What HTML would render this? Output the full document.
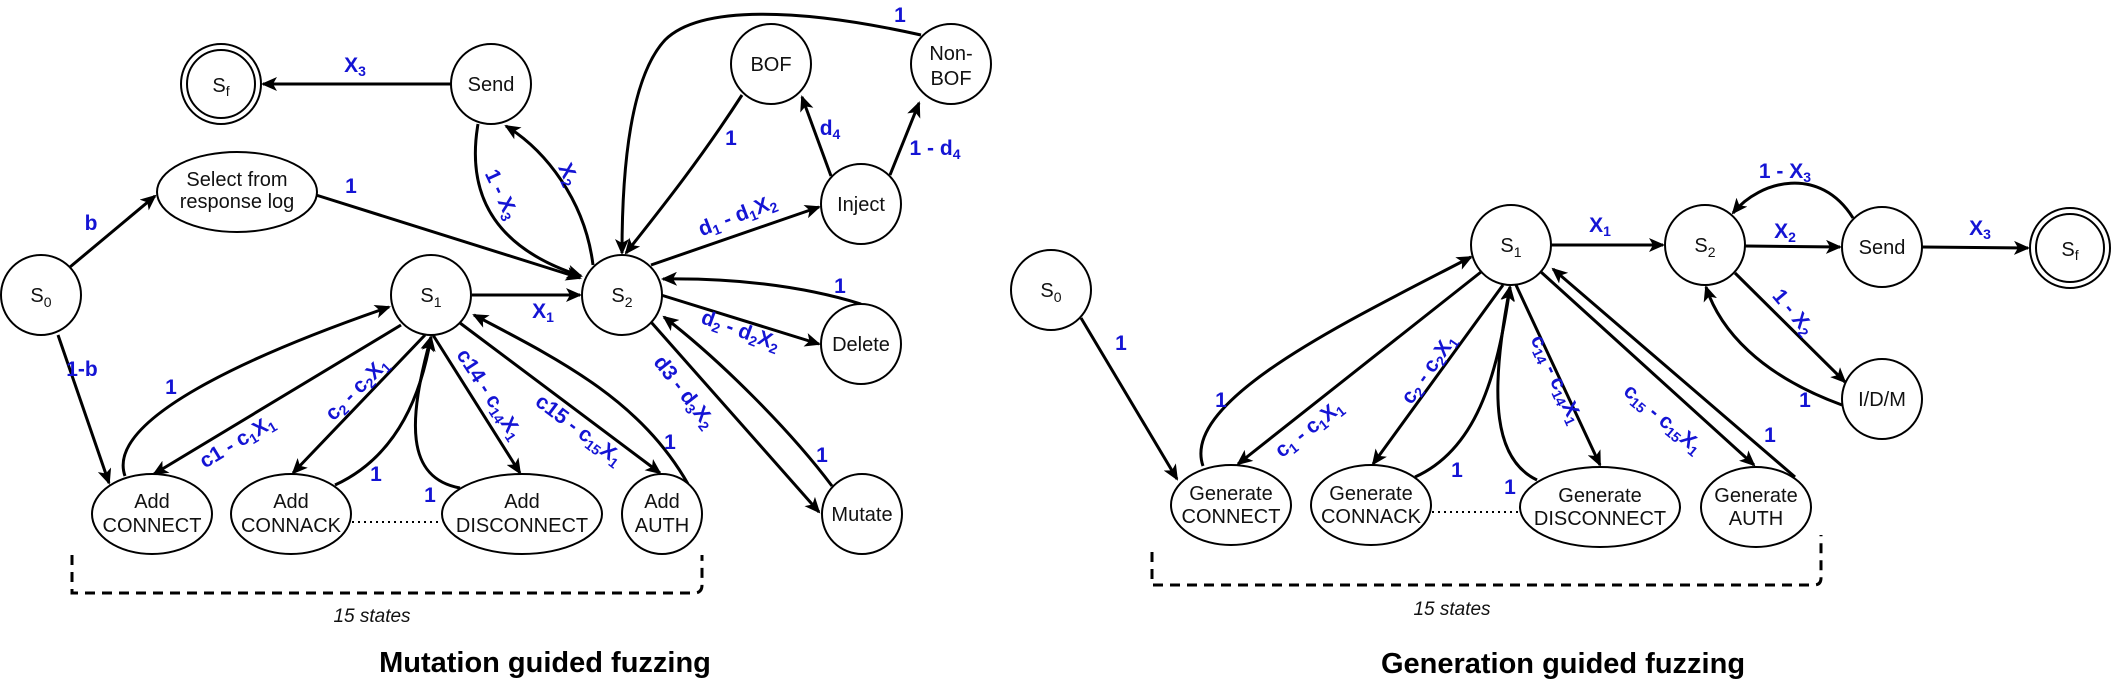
<!DOCTYPE html>
<html><head><meta charset="utf-8"><style>
html,body{margin:0;padding:0;background:#fff;}
svg{display:block;}
.n{fill:#fff;stroke:#000;stroke-width:2;}
.e{fill:none;stroke:#000;stroke-width:3;marker-end:url(#a);}
.t{font-family:"Liberation Sans",sans-serif;font-size:20px;fill:#111;text-anchor:middle;}
.l{font-family:"Liberation Sans",sans-serif;font-size:21px;font-weight:bold;fill:#1414d4;text-anchor:middle;}
.s{font-size:14px;}
</style></head><body>
<svg width="2113" height="684" viewBox="0 0 2113 684" xmlns="http://www.w3.org/2000/svg">
<defs><marker id="a" markerUnits="userSpaceOnUse" markerWidth="16" markerHeight="14" refX="14" refY="7" orient="auto"><path d="M0,0 L16,7 L0,14 L4,7 z" fill="#000"/></marker></defs>

<!-- ===== LEFT ===== -->
<path class="e" d="M451,84 L263,84"/>
<path class="e" d="M70,267 L155,196"/>
<path class="e" d="M316,195 L580,278"/>
<path class="e" d="M58,335 L109,483"/>
<path class="e" d="M472,295 L580,295"/>
<path class="e" d="M593,265 C585,200 545,150 506,126"/>
<path class="e" d="M478,124 C465,200 500,250 581,276"/>
<path class="e" d="M742,95 C700,160 660,210 626,253"/>
<path class="e" d="M921,35 C800,8 700,5 665,40 C628,80 622,180 622,253"/>
<path class="e" d="M651,265 L819,207"/>
<path class="e" d="M831,176 L802,97"/>
<path class="e" d="M890,175 L919,103"/>
<path class="e" d="M861,304 C800,285 730,278 663,279"/>
<path class="e" d="M661,295 L819,344"/>
<path class="e" d="M651,322 L819,512"/>
<path class="e" d="M832,486 C790,430 720,360 664,317"/>
<path class="e" d="M401,325 L154,474"/>
<path class="e" d="M125,476 C105,420 250,355 389,307"/>
<path class="e" d="M425,335 L293,473"/>
<path class="e" d="M335,485 C400,455 422,390 431,337"/>
<path class="e" d="M460,488 C405,478 408,420 431,337"/>
<path class="e" d="M433,335 L520,473"/>
<path class="e" d="M460,323 L660,473"/>
<path class="e" d="M688,484 C640,400 560,360 474,315"/>
<path d="M352,522 L440,522" stroke="#000" stroke-width="2" stroke-dasharray="2,4"/>
<path d="M72,555 L72,593 L694,593 Q702,593 702,585 L702,555" fill="none" stroke="#000" stroke-width="3" stroke-dasharray="10,7"/>
<ellipse class="n" cx="221" cy="84" rx="40" ry="40"/><ellipse class="n" cx="221" cy="84" rx="34" ry="34"/>
<text class="t" x="221" y="92">S<tspan class="s" dy="4">f</tspan></text>
<ellipse class="n" cx="491" cy="84" rx="40" ry="40"/><text class="t" x="491" y="91">Send</text>
<ellipse class="n" cx="237" cy="192" rx="80" ry="40"/><text class="t" x="237" y="186" font-size="18">Select from</text><text class="t" x="237" y="208" font-size="18">response log</text>
<ellipse class="n" cx="41" cy="295" rx="40" ry="40"/><text class="t" x="41" y="302">S<tspan class="s" dy="5">0</tspan></text>
<ellipse class="n" cx="431" cy="295" rx="40" ry="40"/><text class="t" x="431" y="302">S<tspan class="s" dy="5">1</tspan></text>
<ellipse class="n" cx="622" cy="295" rx="40" ry="40"/><text class="t" x="622" y="302">S<tspan class="s" dy="5">2</tspan></text>
<ellipse class="n" cx="771" cy="64" rx="40" ry="40"/><text class="t" x="771" y="71">BOF</text>
<ellipse class="n" cx="951" cy="64" rx="40" ry="40"/><text class="t" x="951" y="60">Non-</text><text class="t" x="951" y="85">BOF</text>
<ellipse class="n" cx="861" cy="204" rx="40" ry="40"/><text class="t" x="861" y="211">Inject</text>
<ellipse class="n" cx="861" cy="344" rx="40" ry="40"/><text class="t" x="861" y="351">Delete</text>
<ellipse class="n" cx="862" cy="514" rx="40" ry="40"/><text class="t" x="862" y="521">Mutate</text>
<ellipse class="n" cx="152" cy="514" rx="60" ry="40"/><text class="t" x="152" y="508" font-size="18">Add</text><text class="t" x="152" y="532" font-size="18">CONNECT</text>
<ellipse class="n" cx="291" cy="514" rx="60" ry="40"/><text class="t" x="291" y="508" font-size="18">Add</text><text class="t" x="291" y="532" font-size="18">CONNACK</text>
<ellipse class="n" cx="522" cy="514" rx="80" ry="40"/><text class="t" x="522" y="508" font-size="18">Add</text><text class="t" x="522" y="532" font-size="18">DISCONNECT</text>
<ellipse class="n" cx="662" cy="514" rx="40" ry="40"/><text class="t" x="662" y="508" font-size="18">Add</text><text class="t" x="662" y="532" font-size="18">AUTH</text>
<text class="l" x="355" y="72">X<tspan class="s" dy="4">3</tspan></text>
<text class="l" x="91" y="230">b</text>
<text class="l" x="351" y="193">1</text>
<text class="l" x="82" y="376">1-b</text>
<text class="l" x="543" y="318">X<tspan class="s" dy="4">1</tspan></text>
<text class="l" x="567" y="180" transform="rotate(65 567 175)">X<tspan class="s" dy="4">2</tspan></text>
<text class="l" x="500" y="200" transform="rotate(65 500 195)">1 - X<tspan class="s" dy="4">3</tspan></text>
<text class="l" x="731" y="145">1</text>
<text class="l" x="900" y="22">1</text>
<text class="l" x="738" y="222" transform="rotate(-21 738 217)">d<tspan class="s" dy="4">1</tspan><tspan dy="-4"> - d</tspan><tspan class="s" dy="4">1</tspan><tspan dy="-4">X</tspan><tspan class="s" dy="4">2</tspan></text>
<text class="l" x="830" y="135">d<tspan class="s" dy="4">4</tspan></text>
<text class="l" x="935" y="155">1 - d<tspan class="s" dy="4">4</tspan></text>
<text class="l" x="840" y="293">1</text>
<text class="l" x="740" y="337" transform="rotate(20 740 332)">d<tspan class="s" dy="4">2</tspan><tspan dy="-4"> - d</tspan><tspan class="s" dy="4">2</tspan><tspan dy="-4">X</tspan><tspan class="s" dy="4">2</tspan></text>
<text class="l" x="683" y="398" transform="rotate(52 683 393)">d3 - d<tspan class="s" dy="4">3</tspan><tspan dy="-4">X</tspan><tspan class="s" dy="4">2</tspan></text>
<text class="l" x="822" y="462">1</text>
<text class="l" x="238" y="448" transform="rotate(-31 238 443)">c1 - c<tspan class="s" dy="4">1</tspan><tspan dy="-4">X</tspan><tspan class="s" dy="4">1</tspan></text>
<text class="l" x="171" y="394">1</text>
<text class="l" x="358" y="395" transform="rotate(-45 358 390)">c<tspan class="s" dy="4">2</tspan><tspan dy="-4"> - c</tspan><tspan class="s" dy="4">2</tspan><tspan dy="-4">X</tspan><tspan class="s" dy="4">1</tspan></text>
<text class="l" x="376" y="481">1</text>
<text class="l" x="430" y="502">1</text>
<text class="l" x="488" y="400" transform="rotate(57 488 395)">c14 - c<tspan class="s" dy="4">14</tspan><tspan dy="-4">X</tspan><tspan class="s" dy="4">1</tspan></text>
<text class="l" x="578" y="436" transform="rotate(37 578 431)">c15 - c<tspan class="s" dy="4">15</tspan><tspan dy="-4">X</tspan><tspan class="s" dy="4">1</tspan></text>
<text class="l" x="670" y="449">1</text>
<text x="372" y="622" font-family="Liberation Sans, sans-serif" font-size="19" font-style="italic" text-anchor="middle" fill="#111">15 states</text>
<text x="545" y="672" font-family="Liberation Sans, sans-serif" font-size="29" font-weight="bold" text-anchor="middle" fill="#000">Mutation guided fuzzing</text>

<!-- ===== RIGHT ===== -->
<path class="e" d="M1081,318 L1177,479"/>
<path class="e" d="M1551,245 L1663,245"/>
<path class="e" d="M1745,246 L1840,247"/>
<path class="e" d="M1922,247 L2028,248"/>
<path class="e" d="M1853,218 C1820,165 1760,180 1733,213"/>
<path class="e" d="M1735,273 L1845,382"/>
<path class="e" d="M1842,405 C1760,375 1720,330 1706,287"/>
<path class="e" d="M1203,466 C1180,400 1350,320 1471,257"/>
<path class="e" d="M1481,272 L1238,464"/>
<path class="e" d="M1503,285 L1373,464"/>
<path class="e" d="M1415,477 C1475,450 1497,380 1510,287"/>
<path class="e" d="M1537,480 C1495,460 1488,400 1510,287"/>
<path class="e" d="M1516,285 L1600,465"/>
<path class="e" d="M1541,272 L1754,465"/>
<path class="e" d="M1795,477 L1553,269"/>
<path d="M1432,512 L1520,512" stroke="#000" stroke-width="2" stroke-dasharray="2,4"/>
<path d="M1152,552 L1152,585 L1814,585 Q1821,585 1821,578 L1821,535" fill="none" stroke="#000" stroke-width="3" stroke-dasharray="10,7"/>
<ellipse class="n" cx="1051" cy="290" rx="40" ry="40"/><text class="t" x="1051" y="297">S<tspan class="s" dy="5">0</tspan></text>
<ellipse class="n" cx="1511" cy="245" rx="40" ry="40"/><text class="t" x="1511" y="252">S<tspan class="s" dy="5">1</tspan></text>
<ellipse class="n" cx="1705" cy="245" rx="40" ry="40"/><text class="t" x="1705" y="252">S<tspan class="s" dy="5">2</tspan></text>
<ellipse class="n" cx="1882" cy="247" rx="40" ry="40"/><text class="t" x="1882" y="254">Send</text>
<ellipse class="n" cx="2070" cy="248" rx="40" ry="40"/><ellipse class="n" cx="2070" cy="248" rx="34" ry="34"/>
<text class="t" x="2070" y="256">S<tspan class="s" dy="4">f</tspan></text>
<ellipse class="n" cx="1882" cy="399" rx="40" ry="40"/><text class="t" x="1882" y="406">I/D/M</text>
<ellipse class="n" cx="1231" cy="505" rx="60" ry="40"/><text class="t" x="1231" y="500" font-size="18">Generate</text><text class="t" x="1231" y="523" font-size="18">CONNECT</text>
<ellipse class="n" cx="1371" cy="505" rx="60" ry="40"/><text class="t" x="1371" y="500" font-size="18">Generate</text><text class="t" x="1371" y="523" font-size="18">CONNACK</text>
<ellipse class="n" cx="1600" cy="507" rx="80" ry="40"/><text class="t" x="1600" y="502" font-size="18">Generate</text><text class="t" x="1600" y="525" font-size="18">DISCONNECT</text>
<ellipse class="n" cx="1756" cy="507" rx="55" ry="40"/><text class="t" x="1756" y="502" font-size="18">Generate</text><text class="t" x="1756" y="525" font-size="18">AUTH</text>
<text class="l" x="1121" y="350">1</text>
<text class="l" x="1600" y="232">X<tspan class="s" dy="4">1</tspan></text>
<text class="l" x="1785" y="238">X<tspan class="s" dy="4">2</tspan></text>
<text class="l" x="1980" y="235">X<tspan class="s" dy="4">3</tspan></text>
<text class="l" x="1785" y="178">1 - X<tspan class="s" dy="4">3</tspan></text>
<text class="l" x="1792" y="318" transform="rotate(50 1792 313)">1 - X<tspan class="s" dy="4">2</tspan></text>
<text class="l" x="1805" y="407">1</text>
<text class="l" x="1221" y="407">1</text>
<text class="l" x="1310" y="435" transform="rotate(-38 1310 430)">c<tspan class="s" dy="4">1</tspan><tspan dy="-4"> - c</tspan><tspan class="s" dy="4">1</tspan><tspan dy="-4">X</tspan><tspan class="s" dy="4">1</tspan></text>
<text class="l" x="1430" y="375" transform="rotate(-55 1430 370)">c<tspan class="s" dy="4">2</tspan><tspan dy="-4"> - c</tspan><tspan class="s" dy="4">2</tspan><tspan dy="-4">X</tspan><tspan class="s" dy="4">1</tspan></text>
<text class="l" x="1457" y="477">1</text>
<text class="l" x="1510" y="494">1</text>
<text class="l" x="1555" y="385" transform="rotate(65 1555 380)">c<tspan class="s" dy="4">14</tspan><tspan dy="-4"> - c</tspan><tspan class="s" dy="4">14</tspan><tspan dy="-4">X</tspan><tspan class="s" dy="4">1</tspan></text>
<text class="l" x="1662" y="425" transform="rotate(40 1662 420)">c<tspan class="s" dy="4">15</tspan><tspan dy="-4"> - c</tspan><tspan class="s" dy="4">15</tspan><tspan dy="-4">X</tspan><tspan class="s" dy="4">1</tspan></text>
<text class="l" x="1770" y="442">1</text>
<text x="1452" y="615" font-family="Liberation Sans, sans-serif" font-size="19" font-style="italic" text-anchor="middle" fill="#111">15 states</text>
<text x="1563" y="673" font-family="Liberation Sans, sans-serif" font-size="29" font-weight="bold" text-anchor="middle" fill="#000">Generation guided fuzzing</text>
</svg>
</body></html>
